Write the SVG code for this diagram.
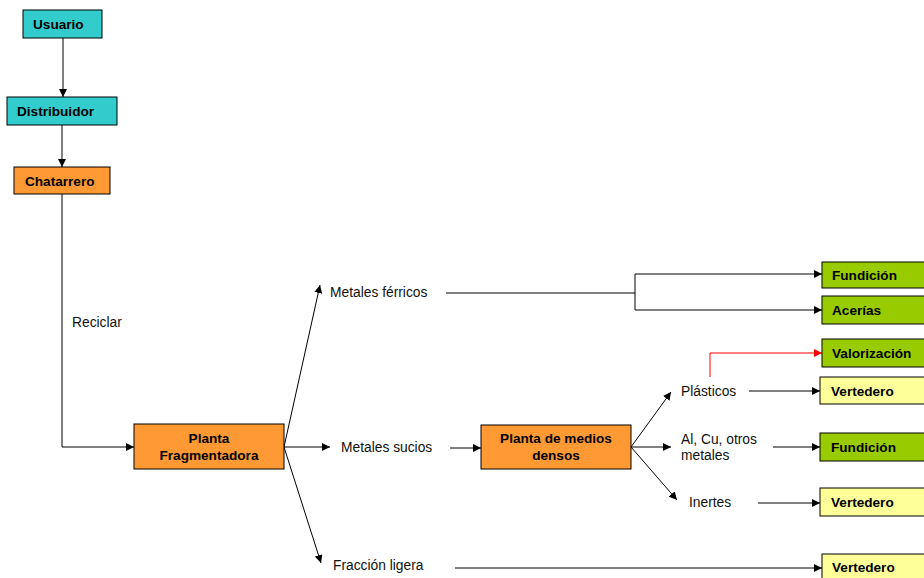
<svg xmlns="http://www.w3.org/2000/svg" width="924" height="578" viewBox="0 0 924 578">
<defs>
<marker id="ah" viewBox="0 0 10 10" refX="10" refY="5" markerWidth="8" markerHeight="8" markerUnits="userSpaceOnUse" orient="auto"><path d="M0,0 L10,5 L0,10 z" fill="#000"/></marker>
<marker id="ahr" viewBox="0 0 10 10" refX="10" refY="5" markerWidth="8" markerHeight="8" markerUnits="userSpaceOnUse" orient="auto"><path d="M0,0 L10,5 L0,10 z" fill="#ff0000"/></marker>
<style>
.box{stroke:#000;stroke-width:1}
.cy{fill:#33cccc}.or{fill:#ff9933}.gr{fill:#99cc00}.ye{fill:#ffff99}
.bt{font-family:"Liberation Sans",Arial,sans-serif;font-size:13.6px;font-weight:bold;fill:#000}
.lt{font-family:"Liberation Sans",Arial,sans-serif;font-size:13.8px;fill:#111}
.ln{stroke:#000;stroke-width:1;fill:none}
.ar{stroke:#000;stroke-width:1;fill:none;marker-end:url(#ah)}
</style>
</defs>
<g id="connectors">
<path class="ar" d="M63,38 V97"/>
<path class="ar" d="M62,125 V167"/>
<path class="ar" d="M62,194 V447 H134"/>
<path class="ar" d="M284,447 L320,285"/>
<path class="ar" d="M284,447 H330"/>
<path class="ar" d="M284,447 L321,563"/>
<path class="ln" d="M446,293 H635"/>
<path class="ar" d="M635,293 V274 H822"/>
<path class="ar" d="M635,293 V310 H822"/>
<path class="ar" d="M450,448 H481"/>
<path class="ar" d="M631,447 L671,392"/>
<path class="ar" d="M631,447 H671"/>
<path class="ar" d="M631,447 L677,500"/>
<path d="M710,377 V353 H822" stroke="#ff0000" stroke-width="1" fill="none" marker-end="url(#ahr)"/>
<path class="ar" d="M749,391 H820"/>
<path class="ar" d="M773,447 H820"/>
<path class="ar" d="M758,503 H820"/>
<path class="ar" d="M455,568 H822"/>
</g>
<g id="lbl-reciclar"><text class="lt" x="72" y="327">Reciclar</text></g>
<g id="lbl-ferricos"><text class="lt" x="330" y="297">Metales férricos</text></g>
<g id="lbl-sucios"><text class="lt" x="341" y="452">Metales sucios</text></g>
<g id="lbl-ligera"><text class="lt" x="333" y="570">Fracción ligera</text></g>
<g id="lbl-plasticos"><text class="lt" x="681" y="396">Plásticos</text></g>
<g id="lbl-metales"><text class="lt" x="681" y="444">Al, Cu, otros</text><text class="lt" x="681" y="460">metales</text></g>
<g id="lbl-inertes"><text class="lt" x="689" y="507">Inertes</text></g>
<g id="usuario"><rect class="box cy" x="23" y="10" width="79" height="28"/><text class="bt" x="33" y="29">Usuario</text></g>
<g id="distribuidor"><rect class="box cy" x="7" y="97" width="110" height="28"/><text class="bt" x="17" y="116">Distribuidor</text></g>
<g id="chatarrero"><rect class="box or" x="14" y="167" width="96" height="27"/><text class="bt" x="25" y="186">Chatarrero</text></g>
<g id="fragmentadora"><rect class="box or" x="134" y="424" width="150" height="45"/><text class="bt" x="209" y="443" text-anchor="middle">Planta</text><text class="bt" x="209" y="460" text-anchor="middle">Fragmentadora</text></g>
<g id="medios-densos"><rect class="box or" x="481" y="425" width="150" height="44"/><text class="bt" x="556" y="443" text-anchor="middle">Planta de medios</text><text class="bt" x="556" y="460" text-anchor="middle">densos</text></g>
<g id="fundicion1"><rect class="box gr" x="822" y="262" width="110" height="26"/><text class="bt" x="832" y="280">Fundición</text></g>
<g id="acerias"><rect class="box gr" x="822" y="296" width="110" height="28"/><text class="bt" x="832" y="315">Acerías</text></g>
<g id="valorizacion"><rect class="box gr" x="822" y="339" width="110" height="28"/><text class="bt" x="832" y="358">Valorización</text></g>
<g id="vertedero1"><rect class="box ye" x="820" y="377" width="110" height="27"/><text class="bt" x="831" y="396">Vertedero</text></g>
<g id="fundicion2"><rect class="box gr" x="820" y="433" width="110" height="28"/><text class="bt" x="831" y="452">Fundición</text></g>
<g id="vertedero2"><rect class="box ye" x="820" y="488" width="110" height="28"/><text class="bt" x="831" y="507">Vertedero</text></g>
<g id="vertedero3"><rect class="box ye" x="822" y="554" width="110" height="30"/><text class="bt" x="832" y="572">Vertedero</text></g>
</svg>
